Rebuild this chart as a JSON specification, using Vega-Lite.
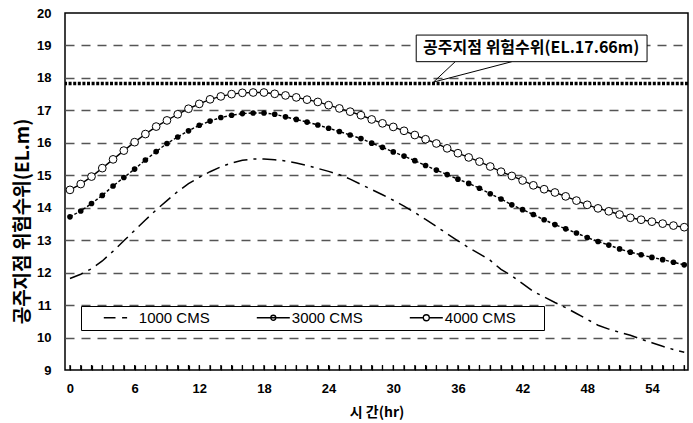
{
  "$schema": "https://vega.github.io/schema/vega-lite/v6.json",
  "width": 623,
  "height": 357,
  "autosize": {"type": "none"},
  "padding": {"left": 65, "top": 13, "right": 5, "bottom": 53},
  "background": "white",
  "config": {
    "view": {"stroke": "#000", "strokeWidth": 1.5},
    "font": "Liberation Sans",
    "axis": {"labelOverlap": false, "labelFlush": false, "grid": false}
  },
  "datasets": {
    "wl": [
      {"t":0,"series":"1000 CMS","wl":11.82},{"t":1,"series":"1000 CMS","wl":11.95},{"t":2,"series":"1000 CMS","wl":12.12},{"t":3,"series":"1000 CMS","wl":12.36},{"t":4,"series":"1000 CMS","wl":12.66},{"t":5,"series":"1000 CMS","wl":12.98},{"t":6,"series":"1000 CMS","wl":13.3},{"t":7,"series":"1000 CMS","wl":13.62},{"t":8,"series":"1000 CMS","wl":13.93},{"t":9,"series":"1000 CMS","wl":14.22},{"t":10,"series":"1000 CMS","wl":14.5},{"t":11,"series":"1000 CMS","wl":14.74},{"t":12,"series":"1000 CMS","wl":14.94},{"t":13,"series":"1000 CMS","wl":15.11},{"t":14,"series":"1000 CMS","wl":15.26},{"t":15,"series":"1000 CMS","wl":15.38},{"t":16,"series":"1000 CMS","wl":15.46},{"t":17,"series":"1000 CMS","wl":15.5},{"t":18,"series":"1000 CMS","wl":15.5},{"t":19,"series":"1000 CMS","wl":15.48},{"t":20,"series":"1000 CMS","wl":15.44},{"t":21,"series":"1000 CMS","wl":15.38},{"t":22,"series":"1000 CMS","wl":15.3},{"t":23,"series":"1000 CMS","wl":15.21},{"t":24,"series":"1000 CMS","wl":15.12},{"t":25,"series":"1000 CMS","wl":15.02},{"t":26,"series":"1000 CMS","wl":14.88},{"t":27,"series":"1000 CMS","wl":14.72},{"t":28,"series":"1000 CMS","wl":14.56},{"t":29,"series":"1000 CMS","wl":14.4},{"t":30,"series":"1000 CMS","wl":14.23},{"t":31,"series":"1000 CMS","wl":14.05},{"t":32,"series":"1000 CMS","wl":13.85},{"t":33,"series":"1000 CMS","wl":13.64},{"t":34,"series":"1000 CMS","wl":13.42},{"t":35,"series":"1000 CMS","wl":13.2},{"t":36,"series":"1000 CMS","wl":12.98},{"t":37,"series":"1000 CMS","wl":12.77},{"t":38,"series":"1000 CMS","wl":12.58},{"t":39,"series":"1000 CMS","wl":12.38},{"t":40,"series":"1000 CMS","wl":12.1},{"t":41,"series":"1000 CMS","wl":11.9},{"t":42,"series":"1000 CMS","wl":11.66},{"t":43,"series":"1000 CMS","wl":11.42},{"t":44,"series":"1000 CMS","wl":11.25},{"t":45,"series":"1000 CMS","wl":11.08},{"t":46,"series":"1000 CMS","wl":10.92},{"t":47,"series":"1000 CMS","wl":10.74},{"t":48,"series":"1000 CMS","wl":10.56},{"t":49,"series":"1000 CMS","wl":10.38},{"t":50,"series":"1000 CMS","wl":10.26},{"t":51,"series":"1000 CMS","wl":10.16},{"t":52,"series":"1000 CMS","wl":10.07},{"t":53,"series":"1000 CMS","wl":9.95},{"t":54,"series":"1000 CMS","wl":9.84},{"t":55,"series":"1000 CMS","wl":9.73},{"t":56,"series":"1000 CMS","wl":9.63},{"t":57,"series":"1000 CMS","wl":9.55},
      {"t":0,"series":"3000 CMS","wl":13.72},{"t":1,"series":"3000 CMS","wl":13.9},{"t":2,"series":"3000 CMS","wl":14.13},{"t":3,"series":"3000 CMS","wl":14.38},{"t":4,"series":"3000 CMS","wl":14.67},{"t":5,"series":"3000 CMS","wl":14.93},{"t":6,"series":"3000 CMS","wl":15.19},{"t":7,"series":"3000 CMS","wl":15.47},{"t":8,"series":"3000 CMS","wl":15.73},{"t":9,"series":"3000 CMS","wl":15.98},{"t":10,"series":"3000 CMS","wl":16.18},{"t":11,"series":"3000 CMS","wl":16.37},{"t":12,"series":"3000 CMS","wl":16.54},{"t":13,"series":"3000 CMS","wl":16.67},{"t":14,"series":"3000 CMS","wl":16.78},{"t":15,"series":"3000 CMS","wl":16.85},{"t":16,"series":"3000 CMS","wl":16.9},{"t":17,"series":"3000 CMS","wl":16.92},{"t":18,"series":"3000 CMS","wl":16.92},{"t":19,"series":"3000 CMS","wl":16.88},{"t":20,"series":"3000 CMS","wl":16.8},{"t":21,"series":"3000 CMS","wl":16.72},{"t":22,"series":"3000 CMS","wl":16.64},{"t":23,"series":"3000 CMS","wl":16.55},{"t":24,"series":"3000 CMS","wl":16.45},{"t":25,"series":"3000 CMS","wl":16.35},{"t":26,"series":"3000 CMS","wl":16.24},{"t":27,"series":"3000 CMS","wl":16.13},{"t":28,"series":"3000 CMS","wl":15.99},{"t":29,"series":"3000 CMS","wl":15.86},{"t":30,"series":"3000 CMS","wl":15.72},{"t":31,"series":"3000 CMS","wl":15.59},{"t":32,"series":"3000 CMS","wl":15.45},{"t":33,"series":"3000 CMS","wl":15.3},{"t":34,"series":"3000 CMS","wl":15.16},{"t":35,"series":"3000 CMS","wl":15.02},{"t":36,"series":"3000 CMS","wl":14.88},{"t":37,"series":"3000 CMS","wl":14.75},{"t":38,"series":"3000 CMS","wl":14.6},{"t":39,"series":"3000 CMS","wl":14.43},{"t":40,"series":"3000 CMS","wl":14.27},{"t":41,"series":"3000 CMS","wl":14.09},{"t":42,"series":"3000 CMS","wl":13.94},{"t":43,"series":"3000 CMS","wl":13.79},{"t":44,"series":"3000 CMS","wl":13.63},{"t":45,"series":"3000 CMS","wl":13.48},{"t":46,"series":"3000 CMS","wl":13.35},{"t":47,"series":"3000 CMS","wl":13.22},{"t":48,"series":"3000 CMS","wl":13.08},{"t":49,"series":"3000 CMS","wl":12.96},{"t":50,"series":"3000 CMS","wl":12.85},{"t":51,"series":"3000 CMS","wl":12.73},{"t":52,"series":"3000 CMS","wl":12.63},{"t":53,"series":"3000 CMS","wl":12.55},{"t":54,"series":"3000 CMS","wl":12.47},{"t":55,"series":"3000 CMS","wl":12.4},{"t":56,"series":"3000 CMS","wl":12.32},{"t":57,"series":"3000 CMS","wl":12.24},
      {"t":0,"series":"4000 CMS","wl":14.55},{"t":1,"series":"4000 CMS","wl":14.73},{"t":2,"series":"4000 CMS","wl":14.96},{"t":3,"series":"4000 CMS","wl":15.22},{"t":4,"series":"4000 CMS","wl":15.49},{"t":5,"series":"4000 CMS","wl":15.76},{"t":6,"series":"4000 CMS","wl":16.02},{"t":7,"series":"4000 CMS","wl":16.27},{"t":8,"series":"4000 CMS","wl":16.5},{"t":9,"series":"4000 CMS","wl":16.69},{"t":10,"series":"4000 CMS","wl":16.88},{"t":11,"series":"4000 CMS","wl":17.05},{"t":12,"series":"4000 CMS","wl":17.2},{"t":13,"series":"4000 CMS","wl":17.34},{"t":14,"series":"4000 CMS","wl":17.43},{"t":15,"series":"4000 CMS","wl":17.5},{"t":16,"series":"4000 CMS","wl":17.54},{"t":17,"series":"4000 CMS","wl":17.55},{"t":18,"series":"4000 CMS","wl":17.55},{"t":19,"series":"4000 CMS","wl":17.51},{"t":20,"series":"4000 CMS","wl":17.46},{"t":21,"series":"4000 CMS","wl":17.4},{"t":22,"series":"4000 CMS","wl":17.33},{"t":23,"series":"4000 CMS","wl":17.26},{"t":24,"series":"4000 CMS","wl":17.16},{"t":25,"series":"4000 CMS","wl":17.06},{"t":26,"series":"4000 CMS","wl":16.96},{"t":27,"series":"4000 CMS","wl":16.85},{"t":28,"series":"4000 CMS","wl":16.72},{"t":29,"series":"4000 CMS","wl":16.6},{"t":30,"series":"4000 CMS","wl":16.49},{"t":31,"series":"4000 CMS","wl":16.37},{"t":32,"series":"4000 CMS","wl":16.24},{"t":33,"series":"4000 CMS","wl":16.11},{"t":34,"series":"4000 CMS","wl":15.98},{"t":35,"series":"4000 CMS","wl":15.83},{"t":36,"series":"4000 CMS","wl":15.68},{"t":37,"series":"4000 CMS","wl":15.55},{"t":38,"series":"4000 CMS","wl":15.42},{"t":39,"series":"4000 CMS","wl":15.27},{"t":40,"series":"4000 CMS","wl":15.11},{"t":41,"series":"4000 CMS","wl":14.98},{"t":42,"series":"4000 CMS","wl":14.84},{"t":43,"series":"4000 CMS","wl":14.69},{"t":44,"series":"4000 CMS","wl":14.57},{"t":45,"series":"4000 CMS","wl":14.47},{"t":46,"series":"4000 CMS","wl":14.35},{"t":47,"series":"4000 CMS","wl":14.22},{"t":48,"series":"4000 CMS","wl":14.09},{"t":49,"series":"4000 CMS","wl":13.98},{"t":50,"series":"4000 CMS","wl":13.89},{"t":51,"series":"4000 CMS","wl":13.79},{"t":52,"series":"4000 CMS","wl":13.69},{"t":53,"series":"4000 CMS","wl":13.63},{"t":54,"series":"4000 CMS","wl":13.57},{"t":55,"series":"4000 CMS","wl":13.51},{"t":56,"series":"4000 CMS","wl":13.45},{"t":57,"series":"4000 CMS","wl":13.4}
    ],
    "danger": [{"wl": 17.83}],
    "box": [{"t": 32.13, "t2": 53.55, "wl": 18.5, "wl2": 19.32}],
    "leaders": [{"t": 35.75, "wl": 18.5, "t2": 33.73, "wl2": 17.87}, {"t": 41.0, "wl": 18.5, "t2": 33.73, "wl2": 17.87}],
    "note": [{"t": 42.8, "wl": 18.91, "label": "공주지점 위험수위(EL.17.66m)"}]
  },
  "layer": [
    {
      "data": {"name": "danger"},
      "mark": {"type": "rule", "color": "#000", "strokeWidth": 3.4, "strokeDash": [3, 1.6], "strokeCap": "butt"},
      "encoding": {
        "y": {"field": "wl", "type": "quantitative", "title": "공주지점 위험수위(EL.m)",
          "scale": {"domain": [9, 20], "nice": false, "zero": false},
          "axis": {"values": [9,10,11,12,13,14,15,16,17,18,19,20], "tickCount": 12, "tickMinStep": 1, "format": "d",
            "grid": true, "gridDash": [9, 7], "gridColor": "#555", "gridWidth": 1.3,
            "gridOpacity": {"condition": {"test": "datum.value === 9 || datum.value === 20", "value": 0}, "value": 1},
            "ticks": false, "domain": false, "labelPadding": 14, "labelOverlap": false,
            "labelFont": "Liberation Sans", "labelFontWeight": "bold", "labelFontSize": 13, "labelColor": "#000",
            "titleFont": "Noto Sans CJK KR", "titleFontWeight": "bold", "titleFontSize": 19, "titleColor": "#000",
            "titleX": -43, "titleY": 208, "titleBaseline": "middle"}}
      }
    },
    {
      "data": {"name": "leaders"},
      "mark": {"type": "rule", "color": "#000", "strokeWidth": 1},
      "encoding": {
        "x": {"field": "t", "type": "quantitative", "title": "시 간(hr)",
          "scale": {"domain": [-0.46, 57.35], "nice": false, "zero": false},
          "axis": {"values": [0,1,2,3,4,5,6,7,8,9,10,11,12,13,14,15,16,17,18,19,20,21,22,23,24,25,26,27,28,29,30,31,32,33,34,35,36,37,38,39,40,41,42,43,44,45,46,47,48,49,50,51,52,53,54,55,56,57], "tickCount": 58, "tickMinStep": 1, "format": "d",
            "labelExpr": "datum.value % 6 === 0 ? datum.label : ''",
            "grid": false, "domain": false, "offset": -5, "ticks": true, "tickSize": 5, "tickColor": "#000", "tickWidth": 1.2,
            "labelPadding": 12, "labelOverlap": false, "labelFont": "Liberation Sans", "labelFontWeight": "bold", "labelFontSize": 13, "labelColor": "#000",
            "titleFont": "Noto Sans CJK KR", "titleFontWeight": "bold", "titleFontSize": 14, "titleColor": "#000", "titleY": 47, "titleBaseline": "middle"}},
        "x2": {"field": "t2"},
        "y": {"field": "wl", "type": "quantitative", "title": "공주지점 위험수위(EL.m)", "scale": {"domain": [9, 20], "nice": false, "zero": false}},
        "y2": {"field": "wl2"}
      }
    },
    {
      "data": {"name": "box"},
      "mark": {"type": "rect", "fill": "#fff", "stroke": "#000", "strokeWidth": 1},
      "encoding": {
        "x": {"field": "t", "type": "quantitative", "title": "시 간(hr)", "scale": {"domain": [-0.46, 57.35], "nice": false, "zero": false}},
        "x2": {"field": "t2"},
        "y": {"field": "wl", "type": "quantitative", "title": "공주지점 위험수위(EL.m)", "scale": {"domain": [9, 20], "nice": false, "zero": false}},
        "y2": {"field": "wl2"}
      }
    },
    {
      "data": {"name": "note"},
      "mark": {"type": "text", "font": "Noto Sans CJK KR", "fontWeight": "bold", "fontSize": 16, "color": "#000", "align": "center", "baseline": "middle"},
      "encoding": {
        "x": {"field": "t", "type": "quantitative", "title": "시 간(hr)", "scale": {"domain": [-0.46, 57.35], "nice": false, "zero": false}},
        "y": {"field": "wl", "type": "quantitative", "title": "공주지점 위험수위(EL.m)", "scale": {"domain": [9, 20], "nice": false, "zero": false}},
        "text": {"field": "label"}
      }
    },
    {
      "data": {"name": "wl"},
      "transform": [{"filter": "datum.series === '4000 CMS'"}],
      "mark": {"type": "tick", "orient": "vertical", "color": "#000", "size": 5, "thickness": 1.2, "yOffset": -2.5, "opacity": 1},
      "encoding": {
        "x": {"field": "t", "type": "quantitative", "title": "시 간(hr)", "scale": {"domain": [-0.46, 57.35], "nice": false, "zero": false}},
        "y": {"datum": 9, "type": "quantitative", "title": "공주지점 위험수위(EL.m)", "scale": {"domain": [9, 20], "nice": false, "zero": false}}
      }
    },
    {
      "data": {"name": "wl"},
      "transform": [{"filter": "datum.series === '1000 CMS'"}],
      "mark": {"type": "line", "strokeWidth": 1.5, "color": "#000", "strokeDash": [14, 6, 3, 6]},
      "encoding": {
        "x": {"field": "t", "type": "quantitative", "title": "시 간(hr)", "scale": {"domain": [-0.46, 57.35], "nice": false, "zero": false}},
        "y": {"field": "wl", "type": "quantitative", "title": "공주지점 위험수위(EL.m)", "scale": {"domain": [9, 20], "nice": false, "zero": false}}
      }
    },
    {
      "data": {"name": "wl"},
      "transform": [{"filter": "datum.series === '3000 CMS'"}],
      "mark": {"type": "line", "strokeWidth": 1.4, "color": "#000", "strokeDash": [3, 2]},
      "encoding": {
        "x": {"field": "t", "type": "quantitative", "title": "시 간(hr)", "scale": {"domain": [-0.46, 57.35], "nice": false, "zero": false}},
        "y": {"field": "wl", "type": "quantitative", "title": "공주지점 위험수위(EL.m)", "scale": {"domain": [9, 20], "nice": false, "zero": false}}
      }
    },
    {
      "data": {"name": "wl"},
      "transform": [{"filter": "datum.series === '4000 CMS'"}],
      "mark": {"type": "line", "strokeWidth": 1.4, "color": "#000"},
      "encoding": {
        "x": {"field": "t", "type": "quantitative", "title": "시 간(hr)", "scale": {"domain": [-0.46, 57.35], "nice": false, "zero": false}},
        "y": {"field": "wl", "type": "quantitative", "title": "공주지점 위험수위(EL.m)", "scale": {"domain": [9, 20], "nice": false, "zero": false}}
      }
    },
    {
      "data": {"name": "wl"},
      "transform": [{"filter": "datum.series === '3000 CMS'"}],
      "mark": {"type": "point", "shape": "circle", "filled": true, "color": "#000", "size": 32, "opacity": 1},
      "encoding": {
        "x": {"field": "t", "type": "quantitative", "title": "시 간(hr)", "scale": {"domain": [-0.46, 57.35], "nice": false, "zero": false}},
        "y": {"field": "wl", "type": "quantitative", "title": "공주지점 위험수위(EL.m)", "scale": {"domain": [9, 20], "nice": false, "zero": false}}
      }
    },
    {
      "data": {"name": "wl"},
      "transform": [{"filter": "datum.series === '4000 CMS'"}],
      "mark": {"type": "point", "shape": "circle", "filled": false, "fill": "#fff", "stroke": "#000", "strokeWidth": 1, "size": 60, "opacity": 1, "fillOpacity": 1},
      "encoding": {
        "x": {"field": "t", "type": "quantitative", "title": "시 간(hr)", "scale": {"domain": [-0.46, 57.35], "nice": false, "zero": false}},
        "y": {"field": "wl", "type": "quantitative", "title": "공주지점 위험수위(EL.m)", "scale": {"domain": [9, 20], "nice": false, "zero": false}}
      }
    },
    {
      "data": {"name": "wl"},
      "mark": {"type": "point", "opacity": 0, "size": 100, "stroke": "#000"},
      "encoding": {
        "x": {"field": "t", "type": "quantitative", "title": "시 간(hr)", "scale": {"domain": [-0.46, 57.35], "nice": false, "zero": false}},
        "y": {"field": "wl", "type": "quantitative", "title": "공주지점 위험수위(EL.m)", "scale": {"domain": [9, 20], "nice": false, "zero": false}},
        "shape": {"field": "series", "type": "nominal",
          "scale": {"domain": ["1000 CMS", "3000 CMS", "4000 CMS"],
            "range": ["M-1.5,0H0.84M2.16,0H3.16", "M-1.5,0H5.1M2.3,0A0.5,0.5,0,1,1,1.3,0A0.5,0.5,0,1,1,2.3,0", "M-1.5,0H1.2M2.4,0H5.1M2.4,0A0.6,0.6,0,1,1,1.2,0A0.6,0.6,0,1,1,2.4,0M23.9,0L23.9,0"]},
          "legend": {"orient": "none", "legendX": 16, "legendY": 293, "direction": "horizontal",
            "title": " ", "titleOrient": "left", "titleFontSize": 8, "titlePadding": 18.8,
            "strokeColor": "#000", "fillColor": "#fff", "padding": 4,
            "labelFont": "Liberation Sans", "labelFontSize": 15, "labelColor": "#000",
            "symbolSize": 100, "symbolStrokeWidth": 1.3, "symbolStrokeColor": "#000", "symbolOpacity": 1, "labelOffset": 20, "columnPadding": 44,
            "encode": {"symbols": {"update": {"opacity": {"value": 1}, "stroke": {"value": "#000"}, "fill": {"signal": "datum.value === '3000 CMS' ? '#000' : '#fff'"}}}}}}
      }
    }
  ]
}
